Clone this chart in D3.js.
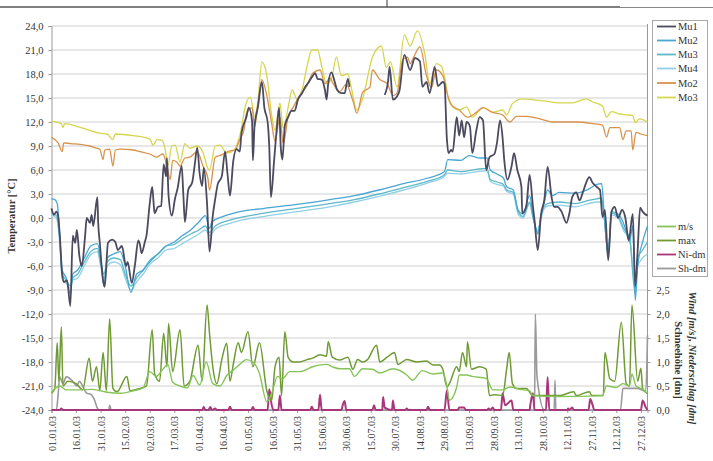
<!DOCTYPE html>
<html><head><meta charset="utf-8">
<script src="https://cdn.jsdelivr.net/npm/d3@7"></script>
<style>
body{margin:0;background:#fff;}
svg{display:block;}
text{font-family:"Liberation Serif","DejaVu Serif",serif;fill:#333;}
</style></head>
<body><svg id="c" width="713" height="461"></svg>
<script>
// ---- data: [dayOfYear (0 = 01.01.03), value] ----
const dateTicks = [0,15,30,45,60,75,90,105,120,135,150,165,180,195,210,225,240,255,270,285,300,315,330,345,360];
const tempTicks = [-24,-21,-18,-15,-12,-9,-6,-3,0,3,6,9,12,15,18,21,24];
const rightTicks = [0,0.5,1,1.5,2,2.5];

const mu1 = [[0,1.2],[1.5,0.4],[3,0.8],[4,0.3],[5,-2],[6.5,-7],[7.5,-8],[9.5,-7.8],[11.5,-11],[13,-2.2],[14.5,-3.1],[15.5,-1.5],[17,-4.7],[18.5,-6],[20.5,-2.3],[21.5,0],[23.5,-0.6],[24.5,0.4],[25.5,-1],[28,2.6],[28.5,-0.5],[29.5,-3.1],[31.5,-7.8],[32.5,-8.6],[34.5,-3.1],[37,-2.7],[39,-3],[40.5,-4],[43,-3.5],[45.5,-6],[46.5,-5.5],[49,-8.1],[51,-5.8],[53,-2.8],[54,-3.3],[55,-4.4],[57,-3],[58,-2.2],[60,1.8],[61.5,3.9],[62.5,1.5],[63,0.6],[65,1.4],[67,1.5],[68.5,6.7],[70,5.2],[70.5,7.5],[71.5,2.8],[73.5,0.3],[75.5,2.5],[77,3.7],[79.5,6.5],[80.5,3],[81.5,-0.5],[83.5,3.5],[86,4.5],[87.5,6.7],[89,8.8],[90.5,5.5],[92,4],[93,6.3],[95,1.8],[96.5,-4.2],[98.5,0.3],[100,2.4],[101.5,4.2],[104,5.2],[106,8.3],[107.5,5.5],[109,2.8],[111,7.1],[113,8.6],[115,8.3],[116,10.6],[119,12.6],[120.5,13.8],[122.5,12.1],[123,7.2],[124,11.5],[126,13.8],[128.5,17],[130,13.8],[132,12],[133,8.9],[134,2.6],[136,7.3],[137.5,11],[139,13.8],[140,8.9],[141,7.3],[142.5,11.5],[144.5,12.6],[146.5,13.4],[148.5,13.4],[150.5,14.8],[153,15.6],[155,16.4],[156.5,16.8],[159,17.6],[161,18.1],[162.5,17.4],[165,17.3],[167,16],[168,14.8],[169,16.8],[171,18.2],[173,17],[174.5,16],[177,15.6],[179,15.6],[181,17.4],[182,16.4],[183,null],
[203.5,15.4],[205.5,17],[206.5,18.9],[208.5,14.8],[211,15.2],[212.5,15.9],[215.5,20.4],[219,18.5],[222,20],[225,19.6],[226.5,16.4],[229,17],[231,15.6],[234,18.9],[236,16.5],[239,17],[240,16.8],[241.5,9.8],[242.5,8.1],[244,8.5],[245,8.3],[247.5,12.6],[249,10.3],[250.5,12.2],[252,10.1],[253.5,12],[255.5,11.5],[257,8.1],[259.5,11],[261.5,12.6],[263.5,12.2],[265.5,6],[267.5,7.6],[270.5,8],[272,9.3],[274,12.2],[275.5,10],[276.5,7.3],[278.5,4.8],[281,6.5],[282.5,8.1],[284.5,6],[287,3.9],[287.5,0.6],[290,1.5],[292,5.4],[294,1.5],[295,-0.3],[297,-4],[299,0.5],[301,2.3],[303,6.4],[305.5,2.5],[307,1.4],[309,1.4],[311.5,0.8],[314.5,-0.6],[316.5,0.8],[318,2.6],[320.5,3.2],[322.5,2.2],[324.5,3.2],[326.5,4.4],[328.5,5.1],[330.5,4.4],[333,3.9],[335,3.5],[336.5,0.1],[338,1],[340,-5.3],[342,0.8],[344,1.4],[346,0],[348.5,1],[350.5,0],[352.5,-2.8],[355,0.5],[356.5,-8.5],[358,-4],[359.5,1.3],[361,0.8],[364,0.3]];

const mu2 = [[0,2.4],[2,2.3],[3.5,1.8],[5,-2],[6.5,-6.5],[9,-7.5],[11.5,-9.5],[13,-7],[16,-6.5],[20,-5],[24,-3.5],[28,-3.2],[30,-5],[32,-8.5],[34,-5],[38,-4.5],[42,-4.2],[45,-6],[48.5,-9.3],[52,-7],[56,-6.5],[60,-5.5],[65,-4.5],[70,-3.5],[75,-3],[80,-2.2],[85,-1.5],[90,-0.5],[94,0.3],[96.5,-1.3],[98,-0.5],[105,0.2],[115,0.8],[130,1.2],[150,1.7],[170,2.3],[185,2.8],[200,3.5],[215,4.3],[230,5],[240,5.8],[242,7.3],[250,7.2],[255,7.8],[262,7.5],[266,7.5],[268,6],[272,5.5],[276,5],[278,3.9],[282,3.5],[285,1],[288,0.5],[292,2.8],[294,0.5],[297,-2],[299,0.3],[301,2],[303,3.5],[306,2.8],[310,3.2],[320,3.1],[328,3.6],[333,4.2],[336,4.3],[337.5,0.6],[340,-4.8],[342,0.8],[346,0.5],[350,-1],[353,-3],[355,-1],[356.5,-10.3],[358,-6],[361,-3],[364,-1]];

const mu3 = [[0,0.6],[3,0.3],[5,-2.5],[6.5,-7],[9,-7.8],[11.5,-8.5],[13,-7.5],[16,-7],[20,-5.5],[24,-4.2],[28,-3.8],[30,-5.5],[32,-7],[34,-5.5],[38,-5],[42,-5.2],[45,-7],[48.5,-8.5],[52,-7.5],[56,-6.5],[60,-5.3],[65,-4.5],[70,-3.5],[75,-3.3],[80,-2.6],[85,-2],[90,-1.5],[94,-1],[96.5,-1.8],[100,-1],[110,-0.2],[130,0.6],[150,1.2],[170,1.8],[185,2.3],[200,3],[215,3.8],[230,4.6],[240,5.4],[242,6],[250,5.8],[260,6.1],[266,6.2],[268,4.8],[272,4.5],[276,4.2],[278,3.5],[282,3.2],[285,0.8],[288,0.2],[292,2],[294,0.2],[297,-1.8],[299,0.3],[301,1.5],[303,1.8],[310,2],[320,1.8],[328,2.2],[333,2.4],[336,2.5],[337.5,0.3],[340,-4.5],[342,0.6],[346,0.2],[350,-1.5],[353,-2.5],[356.5,-9.5],[358,-5],[361,-4],[364,-3]];

const mu4 = [[0,0.4],[3,0],[5,-3],[6.5,-7.5],[9,-8.2],[11.5,-8.8],[13,-7.8],[16,-7.5],[20,-6],[24,-4.6],[28,-4.2],[30,-6],[32,-7.5],[34,-6],[38,-5.5],[42,-5.8],[45,-7.5],[48.5,-9],[52,-8],[56,-7],[60,-5.8],[65,-5],[70,-4],[75,-3.8],[80,-3.2],[85,-2.6],[90,-2],[94,-1.5],[96.5,-2.2],[100,-1.4],[110,-0.6],[130,0.2],[150,0.8],[170,1.4],[185,2],[200,2.7],[215,3.5],[230,4.4],[240,5.2],[242,5.6],[250,5.5],[260,5.8],[266,5.9],[268,4.6],[272,4.2],[276,4],[278,3.3],[282,3],[285,0.5],[288,0],[292,1.8],[294,0],[297,-1.5],[299,0],[301,1.2],[303,1.5],[310,1.6],[320,1.4],[328,1.8],[333,2],[336,2],[337.5,0],[340,-4.2],[342,0.4],[346,0],[350,-1.8],[353,-2.2],[356.5,-8.8],[358,-6],[361,-5],[364,-4.5]];

const mo2 = [[0,10.1],[2,9.8],[4,9.4],[6.5,8.3],[7.5,9.4],[11.5,9.3],[17.5,9.2],[23.5,9],[26.5,8.8],[29.5,8.6],[31.5,7.3],[32.5,8.5],[35.5,8.6],[37.5,6.5],[39,8.5],[42,8.6],[50,8.5],[54,8.3],[60,8],[64.5,7.6],[66,7.8],[68,8],[70.5,6.5],[72.5,4.8],[74,7.2],[76.5,7],[78.5,6.5],[81.5,7.5],[84.5,7.6],[89,8.3],[92.5,6.5],[95.5,5],[96.5,3.5],[100,7.6],[104,7.9],[109,8.4],[112,8.5],[115,9.8],[117.5,11],[119,13],[122.5,13.8],[124,11.4],[126,14],[128.5,17.3],[131.5,15.3],[134.5,11.8],[136.5,9.6],[139.5,12.6],[141.5,9.3],[144.5,12.6],[147.5,13.8],[151.5,15.3],[156,16.5],[159.5,18.1],[164,18.5],[167,16.8],[170,17.5],[172,16.8],[176,15.8],[180,16.7],[184,14.7],[186.5,13.1],[190,15.7],[194.5,16.4],[196,18.5],[200.5,17.3],[205,16.8],[208.5,15.3],[211,15.6],[214.5,19.8],[217.5,20.1],[219,19.3],[220.5,19.8],[225,21.4],[229,17.8],[232,16.3],[235,18.5],[239,17.8],[242,15.3],[244.5,14.1],[249,13.5],[254,12.6],[259.5,13.2],[263.5,13.8],[269.5,13.2],[275.5,12.9],[280,12],[284,12.7],[290,12.7],[300,12.3],[306,12],[314.5,12],[320.5,12],[330.5,11.8],[336.5,11.6],[339,10.1],[341,11.3],[347,11.3],[349,9.8],[351,10.9],[354,10.9],[355,8.5],[357,10.7],[360,10.5],[364,10.3]];

const mo3 = [[0,12.1],[6,11.8],[7,11.3],[8,11.8],[19.5,11.2],[29.5,10.6],[34,10.5],[37.5,9.8],[39,10.5],[50,10.3],[60,9.9],[62,9.1],[64.5,9.8],[67.5,9.7],[69.5,8.5],[71,6.5],[73.5,9],[75.5,9.1],[78.5,7],[81.5,9.3],[84.5,8.7],[89,9],[92.5,8.2],[95.5,6.2],[96.5,6],[100,9],[103,9.1],[107,8.1],[111,8.4],[115,10.3],[119,14.4],[121.5,15.1],[124,12.7],[126,14.5],[128.5,19.5],[131.5,17.8],[134.5,12.8],[136.5,11],[139.5,14.4],[141.5,11.2],[144.5,13.8],[147,16],[150,14.8],[153,16],[156,18.9],[159,21],[162.5,21],[165,19],[168,16.8],[171,17.4],[174,20.1],[177,17.8],[181,18],[183,16.4],[186.5,13.5],[190,14.9],[196,20.1],[201.5,21.5],[204.5,18.8],[207,19.5],[211,16.4],[215.5,22.9],[219,21.5],[223.5,23.4],[228,20.5],[231,16.8],[235,19.3],[238,19],[240,17.7],[242.5,14.8],[245,13.9],[249,13.5],[253.5,13.9],[257,12.6],[263.5,13.8],[269.5,13.2],[275.5,13.5],[278,12.9],[281.5,14.3],[287.5,14.9],[294,14.8],[302,14.6],[310,14.4],[318,14.4],[326.5,14.9],[330.5,14.5],[336.5,14],[339,12.6],[342,13.3],[347,13],[351,12.9],[355,12.8],[356.5,11.9],[359,12.4],[364,12]];

const windMean = [[0,0.37],[5,0.5],[9,0.42],[17,0.42],[25,0.43],[34,0.37],[42,0.35],[50,0.4],[56,0.46],[60,0.8],[64,0.7],[68,0.85],[71,0.95],[74,0.58],[78.5,0.5],[83,0.46],[86.5,0.72],[90.5,0.52],[94.5,1],[98.5,0.55],[103,0.5],[107,0.72],[111,0.83],[115,0.95],[119,1.05],[123,1],[127,0.76],[131.5,0.17],[135,0.4],[138,0.7],[141,0.65],[145.5,0.8],[151.5,0.8],[159.5,0.9],[168,0.95],[171.5,0.9],[176,0.86],[182,0.86],[185,0.7],[190,0.86],[196,0.85],[200.5,0.77],[208.5,0.86],[217,0.73],[220.5,0.62],[226.5,0.82],[233,0.75],[239,0.77],[241.5,0.5],[243,0.2],[247.5,0.48],[249,0.73],[253.5,0.73],[257,0.7],[265.5,0.66],[269.5,0.42],[275.5,0.42],[280,0.48],[286,0.43],[292,0.4],[294,0.3],[310,0.28],[336.5,0.3],[339,0.5],[345,0.47],[349,0.55],[353,0.5],[354.5,0.75],[357,0.5],[360,0.45],[364,0.35]];

const windMax = [[0,0.35],[2,0.45],[3.5,1.4],[4.5,0.6],[6,1.73],[7,0.5],[10,0.6],[15,0.55],[19,0.42],[23,1.08],[25,0.6],[27.5,0.9],[29.5,0.4],[31.5,1.2],[33.5,0.4],[35.5,1.9],[37.5,0.45],[40,0.38],[46,0.7],[48,0.4],[54,0.45],[58,0.5],[61.5,1.67],[63,0.75],[66,0.6],[68.5,1.6],[70.5,0.9],[71.5,1.8],[74,0.8],[78.5,1.67],[81,0.5],[84.5,0.6],[89.5,1.35],[92,0.6],[95,2.19],[96.5,1.6],[98.5,0.9],[101,0.55],[104,1.05],[107,1.39],[109,0.6],[111,0.95],[114,1.4],[116,1.2],[120,1.63],[123,0.9],[127,1.4],[131.5,0.4],[134.5,0.2],[136.5,0.9],[139,1.1],[140.5,0.3],[142.5,1.63],[144.5,1.1],[147.5,1],[151.5,1],[156,1.05],[159.5,1.08],[164,1.15],[168,1.12],[169,1.42],[171.5,1.1],[176,1.04],[181,1.1],[184,0.85],[187,1.05],[190,1],[193,1.05],[198.5,1.35],[200.5,1],[205,1.1],[209.5,1.2],[211.5,0.95],[217,1.05],[223,1],[229,1.02],[233,0.94],[237,0.94],[239,0.85],[241.5,0.48],[243,0.55],[247.5,0.9],[249,0.8],[251,1.2],[253.5,0.9],[254,1.42],[256.5,0.85],[261.5,0.9],[265.5,0.85],[267.5,0.3],[270.5,0.32],[275.5,0.3],[278,0.86],[279.5,1.2],[281.5,0.55],[284,0.45],[290,0.45],[294,0.3],[300,0.3],[310,0.3],[319,0.38],[320.5,0.3],[328.5,0.38],[330,0.3],[337,0.3],[338,1.2],[341,0.65],[344,0.6],[348,1.83],[351,0.55],[353,0.5],[354.5,2.19],[358,0.6],[360,0.87],[361,0.45],[364,0.34]];

const precip = [[0,0],[5,0],[6,0.03],[7,0],[92,0],[93,0.06],[94,0],[96,0],[97,0.06],[98,0],[100,0.03],[101,0],[108,0],[109,0.07],[110,0],[122,0],[123,0.06],[124,0],[132,0],[133,0.43],[134.5,0.1],[135.5,0],[138.5,0],[139.5,0.3],[140.5,0],[158,0],[159,0.07],[160,0],[163,0],[164,0.32],[165,0],[177,0],[178,0.12],[179,0.19],[180,0],[196,0],[197,0.1],[198,0],[202,0],[202.5,0.27],[203.5,0.05],[208,0],[208.5,0.2],[209.5,0],[216,0],[217,0.03],[218,0],[229,0],[230,0.07],[231,0],[240,0],[241.5,0.41],[243,0],[248,0],[249,0.05],[252,0.05],[253,0],[266,0],[267,0.03],[268,0],[269.5,0.05],[270.5,0],[274.5,0],[275.5,0.35],[277,0.1],[281,0.2],[282,0],[292,0],[292.5,0.12],[294,0.35],[295,0],[302,0],[303,0.68],[304,0],[315,0],[315.5,0.03],[316,0],[318,0.05],[319,0],[328,0],[329,0.23],[330.5,0.1],[331.5,0],[360,0],[361,0.2],[363,0.05],[364,0]];

const snow = [[0,0],[3,0],[4,0.3],[5,0.69],[7,0.55],[9,0.69],[13,0.6],[15.5,0.5],[17,0.6],[19,0.5],[21.5,0.35],[24,0.33],[26,0.23],[28,0.04],[29,0],[35,0],[35.5,0.1],[36.5,0],[96,0],[96.5,0.05],[97,0],[295,0],[295.5,2],[296.5,0.7],[301,0],[307,0],[307.5,0.62],[308,0],[347.5,0],[349,0.45],[358,0.45],[362,0.4],[363,0.4],[364,1.55]];

const tempSeries = [
  {name:"Mu1", data:mu1, color:"#4b4a5f", w:1.8},
  {name:"Mu2", data:mu2, color:"#4aa6d2", w:1.3},
  {name:"Mu3", data:mu3, color:"#5db9c9", w:1.3},
  {name:"Mu4", data:mu4, color:"#92d0e6", w:1.3},
  {name:"Mo2", data:mo2, color:"#d8924c", w:1.3},
  {name:"Mo3", data:mo3, color:"#d6d64e", w:1.3}
];
const rightSeries = [
  {name:"m/s", data:windMean, color:"#86c459", w:1.4},
  {name:"max", data:windMax, color:"#6f9a34", w:1.5},
  {name:"Ni-dm", data:precip, color:"#a8377a", w:2},
  {name:"Sh-dm", data:snow, color:"#9a9a9a", w:1.6}
];

// ---- scales ----
const svg = d3.select("#c");
const x = d3.scaleLinear().domain([0,364]).range([51.5,647.5]);
const yT = d3.scaleLinear().domain([-24,24]).range([410,26]);
const yR = d3.scaleLinear().domain([0,8]).range([410,26]);
const comma = v => v.toFixed(1).replace(".", ",");
const dateFmt = d => d3.timeFormat("%d.%m.%y")(new Date(2003,0,1+d));

// scan borders at the top
svg.append("line").attr("x1",0).attr("x2",620).attr("y1",7).attr("y2",7).attr("stroke","#555").attr("stroke-width",1.6);
svg.append("line").attr("x1",620).attr("x2",713).attr("y1",7.5).attr("y2",7.5).attr("stroke","#888").attr("stroke-width",1);
svg.append("line").attr("x1",387).attr("x2",387).attr("y1",0).attr("y2",7).attr("stroke","#555").attr("stroke-width",1.2);

// gridlines
svg.append("g").selectAll("line").data(tempTicks).join("line")
  .attr("x1",51.5).attr("x2",647.5).attr("y1",d=>yT(d)).attr("y2",d=>yT(d))
  .attr("stroke","#cfcfcf").attr("stroke-width",1);

// left axis
const gL = svg.append("g").attr("transform","translate(51.5,0)")
  .call(d3.axisLeft(yT).tickValues(tempTicks).tickSize(3).tickFormat(comma));
gL.select(".domain").attr("stroke","#999");
gL.selectAll(".tick line").attr("stroke","#999");
gL.selectAll("text").attr("font-size",10.5).attr("font-family","Liberation Serif").attr("fill","#333").attr("dx",-2);

// right axis
const gR = svg.append("g").attr("transform","translate(647.5,0)")
  .call(d3.axisRight(yR).tickValues(rightTicks).tickSize(3).tickFormat(comma));
gR.select(".domain").attr("stroke","#999").attr("d","M0,24V410");
gR.selectAll(".tick line").attr("stroke","#999");
gR.selectAll("text").attr("font-size",10.5).attr("font-family","Liberation Serif").attr("fill","#333").attr("dx",3);

// bottom axis
const gB = svg.append("g").attr("transform","translate(0,410)")
  .call(d3.axisBottom(x).tickValues(dateTicks).tickSize(3).tickFormat(dateFmt));
gB.select(".domain").attr("stroke","#999");
gB.selectAll(".tick line").attr("stroke","#999");
gB.selectAll("text").attr("font-size",10).attr("font-family","Liberation Serif").attr("fill","#333")
  .attr("transform","rotate(-90)").attr("text-anchor","end").attr("x",-6).attr("y",0).attr("dy","0.35em");

// axis titles
svg.append("text").attr("transform","translate(15,216) rotate(-90)").attr("text-anchor","middle")
  .attr("font-size",10.5).attr("font-weight","bold").text("Temperatur [°C]");
svg.append("text").attr("transform","translate(689,358) rotate(90)").attr("text-anchor","middle")
  .attr("font-size",10.5).attr("font-weight","bold").attr("font-style","italic").text("Wind [m/s], Niederschlag [dm]");
svg.append("text").attr("transform","translate(675,360) rotate(90)").attr("text-anchor","middle")
  .attr("font-size",10.5).attr("font-weight","bold").text("Schneehöhe [dm]");

// lines
const plot = svg.append("g");
const lineT = d3.line().defined(d=>d[1]!=null).x(d=>x(d[0])).y(d=>yT(d[1])).curve(d3.curveMonotoneX);
const lineR = d3.line().x(d=>x(d[0])).y(d=>yR(d[1])).curve(d3.curveMonotoneX);
[...rightSeries].reverse().forEach(s=>{
  plot.append("path").attr("d",lineR(s.data)).attr("fill","none").attr("stroke",s.color)
    .attr("stroke-width",s.w).attr("stroke-linejoin","round");
});
const order = [5,4,3,2,1,0];
order.forEach(i=>{
  const s = tempSeries[i];
  plot.append("path").attr("d",lineT(s.data)).attr("fill","none").attr("stroke",s.color)
    .attr("stroke-width",s.w).attr("stroke-linejoin","round");
});

// legend
const leg = svg.append("g");
leg.append("rect").attr("x",652.5).attr("y",20.5).attr("width",55).attr("height",256)
  .attr("fill","#fff").attr("stroke","#aaa").attr("stroke-width",1);
const legY1 = [26.5,40.5,54.5,68.5,83,97.5];
tempSeries.forEach((s,i)=>{
  leg.append("line").attr("x1",657).attr("x2",676).attr("y1",legY1[i]).attr("y2",legY1[i])
    .attr("stroke",s.color).attr("stroke-width",1.8);
  leg.append("text").attr("x",678).attr("y",legY1[i]).attr("dy","0.35em").attr("font-size",10.5).text(s.name);
});
const legY2 = [226.5,240.5,254.5,268.5];
rightSeries.forEach((s,i)=>{
  leg.append("line").attr("x1",657).attr("x2",676).attr("y1",legY2[i]).attr("y2",legY2[i])
    .attr("stroke",s.color).attr("stroke-width",1.8);
  leg.append("text").attr("x",678).attr("y",legY2[i]).attr("dy","0.35em").attr("font-size",10.5).text(s.name);
});
</script></body></html>
